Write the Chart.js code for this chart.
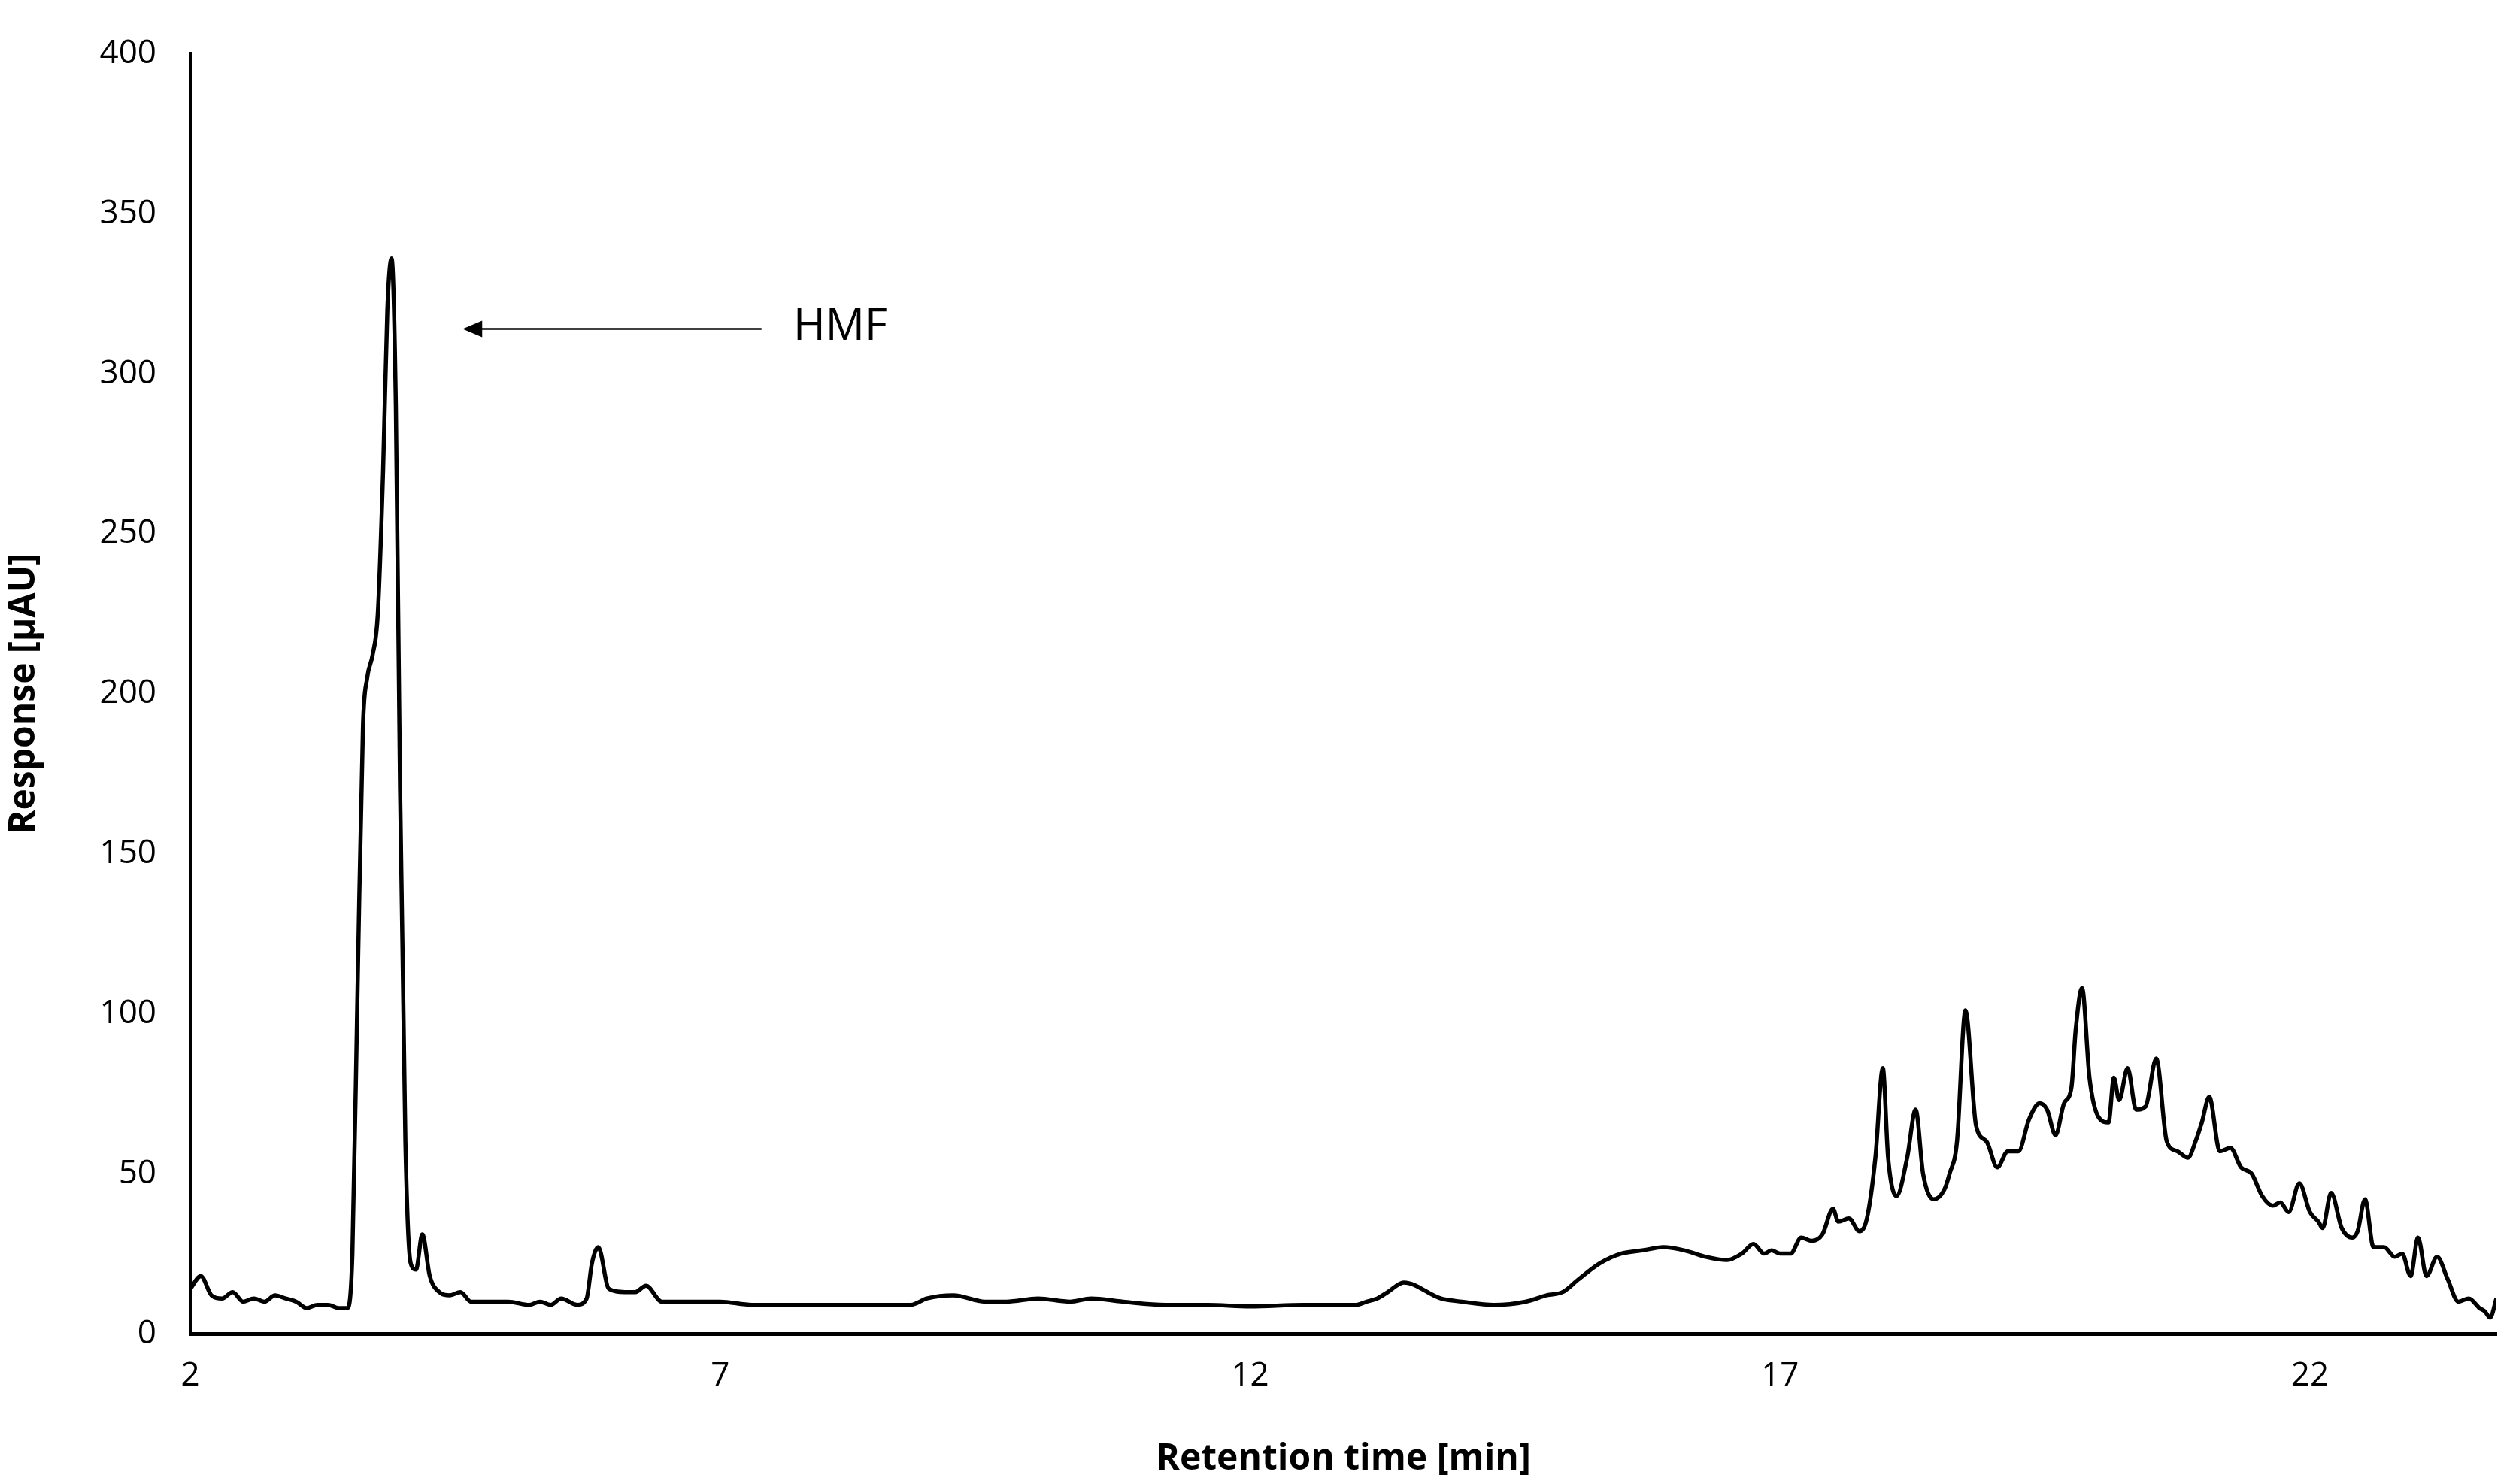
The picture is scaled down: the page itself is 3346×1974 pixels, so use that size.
<!DOCTYPE html>
<html>
<head>
<meta charset="utf-8">
<script src="https://cdn.jsdelivr.net/npm/chart.js@4/dist/chart.umd.min.js"></script>
<style>
  html, body { margin: 0; padding: 0; background: #fff; }
  #wrap { width: 3346px; height: 1974px; }
</style>
</head>
<body>
<div id="wrap"><canvas id="c"></canvas></div>
<script>
// retention time [min] and response [µAU]
const times = [
  2.0, 2.1, 2.2, 2.3, 2.4, 2.5, 2.6, 2.7, 2.8, 2.9, 3.0, 3.1, 3.2, 3.3, 3.4, 3.48,
  3.53, 3.58, 3.63, 3.67, 3.72, 3.77, 3.82, 3.86, 3.9, 3.94, 3.98, 4.03, 4.08, 4.13, 4.19, 4.26, 4.35, 4.45, 4.55, 4.65, 4.75,
  5.0, 5.2, 5.3, 5.4, 5.5, 5.65, 5.74, 5.79, 5.85, 5.95, 6.1, 6.2, 6.3, 6.45, 6.7, 6.8, 7.0, 7.3, 7.6, 8.0, 8.2, 8.5, 8.8, 8.95, 9.2, 9.5, 9.7, 10.0, 10.3, 10.5,
  10.8, 11.2, 11.6, 12.0, 12.5, 13.0, 13.1, 13.2, 13.3, 13.45, 13.8, 14.0, 14.3, 14.6, 14.8, 14.95, 15.1, 15.3, 15.5, 15.7, 15.9, 16.1, 16.3, 16.5, 16.64, 16.75, 16.85, 16.92,
  17.0, 17.1, 17.2, 17.3, 17.4, 17.5, 17.55, 17.65, 17.75, 17.82, 17.9, 17.97, 18.02, 18.1, 18.2, 18.28, 18.35, 18.45, 18.55, 18.6, 18.67, 18.75, 18.85, 18.95,
  19.05, 19.15, 19.25, 19.35, 19.45, 19.52, 19.6, 19.68, 19.75, 19.79, 19.85, 19.92, 20.0, 20.1, 20.15, 20.2, 20.28, 20.36, 20.45, 20.55, 20.65, 20.75, 20.85,
  20.92, 20.98, 21.05, 21.15, 21.25, 21.35, 21.45, 21.55, 21.65, 21.72, 21.8, 21.9, 22.0, 22.08, 22.12, 22.2, 22.3, 22.4, 22.45, 22.52, 22.6, 22.7, 22.8,
  22.87, 22.95, 23.02, 23.1, 23.2, 23.3, 23.4, 23.5, 23.6, 23.65, 23.7, 23.76
];
const response = [
  14, 18, 12, 11, 13, 10, 11, 10, 12, 11, 10, 8, 9, 9, 8, 8,
  25, 110, 190, 205, 212, 225, 270, 320, 336, 290, 170, 60, 22, 20, 31, 18, 13, 12, 13, 10, 10,
  10, 9, 10, 9, 11, 9, 11, 22, 27, 14, 13, 13, 15, 10, 10, 10, 10, 9, 9, 9, 9, 9, 9, 11, 12, 10, 10, 11, 10, 11, 10,
  9, 9, 8.5, 9, 9, 10, 11, 13, 16, 11, 10, 9, 10, 12, 13, 17, 22, 25, 26, 27, 26, 24, 23, 25, 28, 25, 26, 25,
  25, 30, 29, 31, 39, 35, 36, 32, 36, 55, 83, 55, 43, 55, 70, 50, 42, 45, 50, 60, 101, 65, 60, 52,
  57, 57, 67, 72, 70, 62, 72, 77, 95, 108, 80, 68, 66, 80, 73, 83, 70, 71, 86, 60, 57, 55, 60,
  66, 74, 57, 58, 52, 50, 43, 40, 41, 38, 47, 38, 35, 33, 44, 33, 30, 32, 42, 27, 27, 24, 25,
  18, 30, 18, 24, 17, 10, 11, 8, 7, 5, 11, 18
];
const xTicks = [2, 7, 12, 17, 22];
const annoText = 'HMF';

const points = times.map((t, i) => ({ x: t, y: response[i] }));

// arrow + label pointing at the HMF peak
const AnnoPlugin = {
  id: 'anno',
  afterDatasetsDraw(chart) {
    const { ctx, scales: { x, y } } = chart;
    const py = y.getPixelForValue(314);
    const x0 = x.getPixelForValue(7.39), x1 = x.getPixelForValue(4.57);
    ctx.save();
    ctx.strokeStyle = '#000'; ctx.fillStyle = '#000'; ctx.lineWidth = 2.5;
    ctx.beginPath(); ctx.moveTo(x0, py); ctx.lineTo(x1 + 20, py); ctx.stroke();
    ctx.beginPath(); ctx.moveTo(x1, py); ctx.lineTo(x1 + 26, py - 11); ctx.lineTo(x1 + 26, py + 11); ctx.closePath(); ctx.fill();
    ctx.font = '58px "Open Sans", sans-serif';
    ctx.textBaseline = 'middle';
    ctx.fillText(annoText, x.getPixelForValue(7.69), py - 2);
    ctx.restore();
  }
};

new Chart(document.getElementById('c'), {
  type: 'line',
  data: { datasets: [{ data: points, borderColor: '#000', borderWidth: 5.5, pointRadius: 0, tension: 0, cubicInterpolationMode: 'monotone', fill: false }] },
  options: {
    responsive: true, maintainAspectRatio: false, animation: false,
    layout: { padding: { top: 54, right: 26, left: 0, bottom: 0 } },
    plugins: { legend: { display: false }, tooltip: { enabled: false } },
    scales: {
      x: {
        type: 'linear', min: 2, max: 23.76,
        afterFit: s => { s.height = 200; },
        afterBuildTicks: s => { s.ticks = xTicks.map(v => ({ value: v })); },
        ticks: { color: '#000', font: { size: 44, family: '"Open Sans", sans-serif' }, padding: 30, maxRotation: 0 },
        grid: { display: false, drawTicks: false },
        border: { color: '#000', width: 5 },
        title: { display: true, text: 'Retention time [min]', color: '#000', font: { size: 48, weight: 'bold', family: '"Open Sans", sans-serif' }, padding: { top: 20 } }
      },
      y: {
        min: 0, max: 400,
        afterFit: s => { s.width = 253; },
        ticks: { stepSize: 50, color: '#000', font: { size: 44, family: '"Open Sans", sans-serif' }, padding: 45 },
        grid: { display: false, drawTicks: false },
        border: { color: '#000', width: 4 },
        title: { display: true, text: 'Response [µAU]', color: '#000', font: { size: 48, weight: 'bold', family: '"Open Sans", sans-serif' }, padding: { bottom: 10 } }
      }
    }
  },
  plugins: [AnnoPlugin]
});
</script>
</body>
</html>
